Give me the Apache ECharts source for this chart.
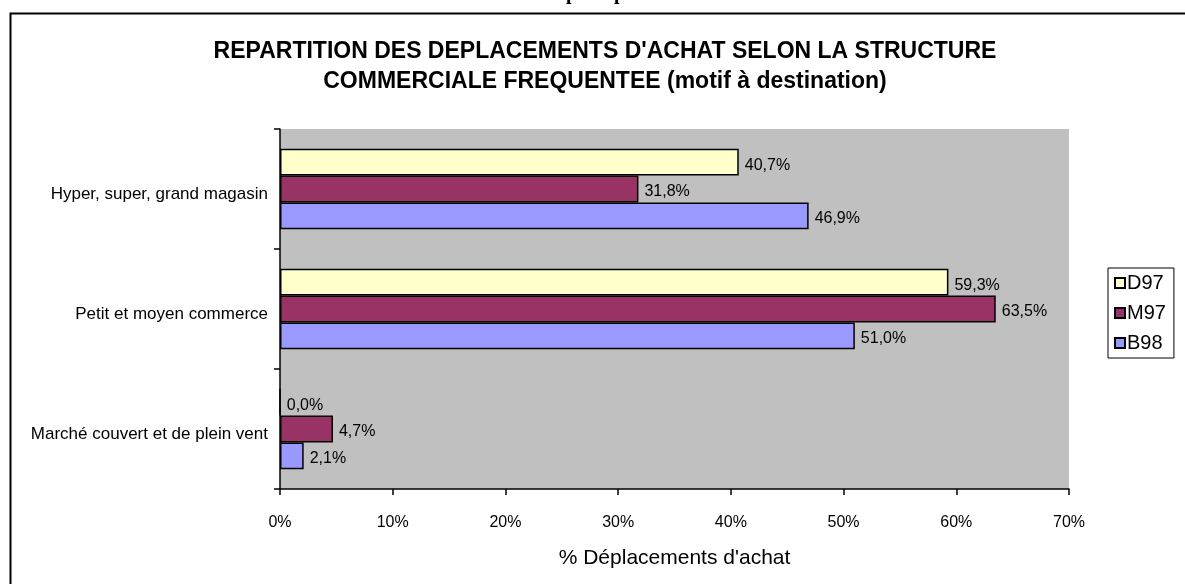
<!DOCTYPE html>
<html lang="fr">
<head>
    <meta charset="UTF-8">
    <title>Répartition des déplacements d'achat</title>
    <script src="https://cdn.jsdelivr.net/npm/echarts@6/dist/echarts.min.js"></script>
    <style>
        html, body { margin: 0; padding: 0; background: #fff; }
    </style>
</head>
<body>
<div id="chart" style="width: 1185px; height: 584px;"></div>

<script type="text/javascript">
    // données
    var categories = ['Hyper, super, grand magasin', 'Petit et moyen commerce', 'Marché couvert et de plein vent'];
    var seriesNames = ['D97', 'M97', 'B98'];
    var d97 = [40.7, 59.3, 0.0];
    var m97 = [31.8, 63.5, 4.7];
    var b98 = [46.9, 51.0, 2.1];
    var xTicks = [0, 10, 20, 30, 40, 50, 60, 70];

    var colors = ['#FFFFCC', '#993366', '#9999FF'];
    var font = 'Liberation Sans, Arial, sans-serif';

    var chart = echarts.init(document.getElementById('chart'));

    function makeSeries(name, data, idx) {
        return {
            name: name,
            type: 'bar',
            data: data,
            barGap: '0%',
            barCategoryGap: '33%',
            itemStyle: {
                color: colors[idx],
                borderColor: '#000',
                borderWidth: 1.5
            },
            label: {
                show: true,
                position: 'right',
                distance: 6,
                offset: [0, 3],
                color: '#000',
                fontFamily: font,
                fontSize: 16,
                formatter: function (p) {
                    return p.value.toFixed(1).replace('.', ',') + '%';
                }
            }
        };
    }

    var option = {
        animation: false,
        backgroundColor: '#fff',
        title: {
            text: "REPARTITION DES DEPLACEMENTS D'ACHAT SELON LA STRUCTURE\nCOMMERCIALE FREQUENTEE (motif à destination)",
            left: 600,
            top: 32,
            textAlign: 'center',
            textStyle: {
                fontFamily: font,
                fontWeight: 'bold',
                fontSize: 23,
                lineHeight: 30,
                color: '#000'
            }
        },
        legend: {
            orient: 'vertical',
            left: 1108,
            top: 268,
            width: 68,
            padding: [1, 8, 1, 6],
            itemGap: 2,
            itemWidth: 10,
            itemHeight: 10,
            icon: 'rect',
            backgroundColor: '#fff',
            borderColor: '#000',
            borderWidth: 1,
            data: seriesNames,
            textStyle: {
                fontFamily: font,
                fontSize: 20,
                lineHeight: 20,
                color: '#000',
                padding: [8, 0, 0, -3]
            }
        },
        grid: {
            left: 280,
            right: 116,
            top: 129,
            bottom: 95,
            show: true,
            backgroundColor: '#C0C0C0',
            borderWidth: 0
        },
        xAxis: {
            type: 'value',
            min: xTicks[0],
            max: xTicks[xTicks.length - 1],
            interval: 10,
            name: "% Déplacements d'achat",
            nameLocation: 'middle',
            nameGap: 59,
            nameTextStyle: {
                fontFamily: font,
                fontSize: 21,
                color: '#000'
            },
            axisLine: { show: true, lineStyle: { color: '#000', width: 1.5 } },
            axisTick: { show: true, length: 6, lineStyle: { color: '#000', width: 1.5 } },
            axisLabel: {
                margin: 26,
                fontFamily: font,
                fontSize: 16,
                color: '#000',
                formatter: '{value}%'
            },
            splitLine: { show: false }
        },
        yAxis: {
            type: 'category',
            inverse: true,
            data: categories,
            axisLine: { show: true, lineStyle: { color: '#000', width: 1.5 } },
            axisTick: { show: true, length: 6, lineStyle: { color: '#000', width: 1.5 } },
            axisLabel: {
                margin: 12,
                fontFamily: font,
                fontSize: 17,
                color: '#000',
                verticalAlign: 'top',
                lineHeight: 10
            },
            splitLine: { show: false }
        },
        graphic: [
            {
                type: 'rect',
                left: 8,
                top: 11,
                shape: { width: 1300, height: 700 },
                style: { fill: 'none', stroke: '#000', lineWidth: 2 },
                silent: true
            },
            {
                type: 'text',
                x: 566,
                y: -16,
                style: { text: 'p', font: 'bold 20px Liberation Serif, serif', fill: '#000' }
            },
            {
                type: 'text',
                x: 614,
                y: -16,
                style: { text: 'p', font: 'bold 20px Liberation Serif, serif', fill: '#000' }
            }
        ],
        series: [
            makeSeries(seriesNames[0], d97, 0),
            makeSeries(seriesNames[1], m97, 1),
            makeSeries(seriesNames[2], b98, 2)
        ]
    };

    chart.setOption(option);
</script>
</body>
</html>
